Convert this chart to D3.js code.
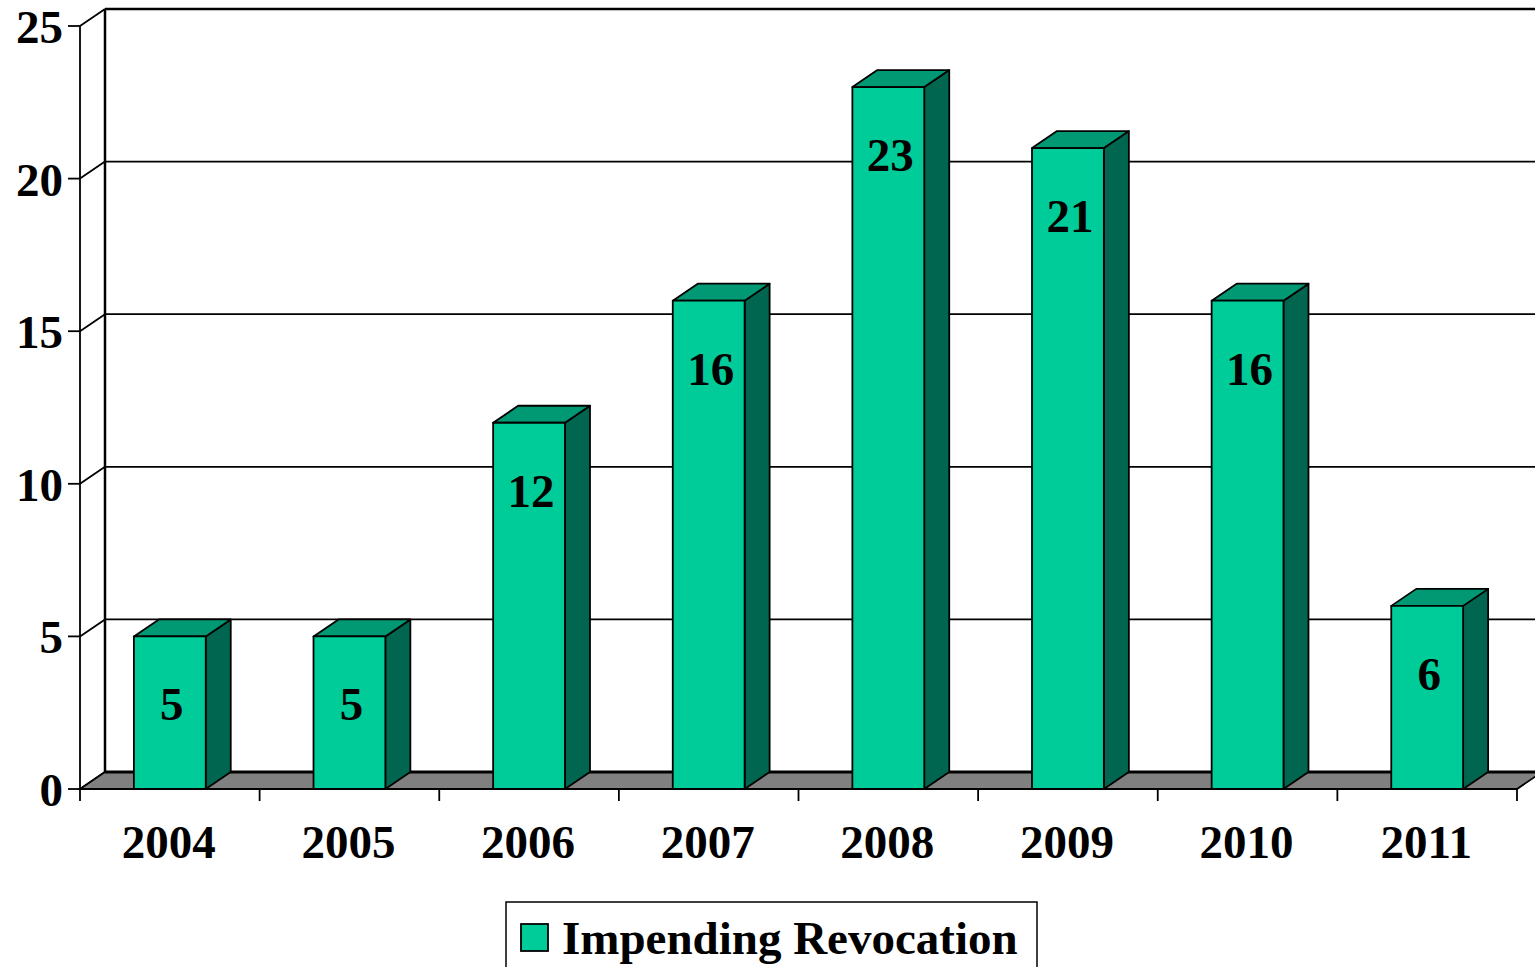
<!DOCTYPE html>
<html><head><meta charset="utf-8">
<script src="https://cdn.jsdelivr.net/npm/d3@7"></script>
<style>html,body{margin:0;padding:0;background:#fff;}svg{display:block;}</style>
</head><body>
<svg id="c" width="1535" height="967"></svg>
<script>
const categories = ["2004","2005","2006","2007","2008","2009","2010","2011"];
const values = [5,5,12,16,23,21,16,6];
const yTicks = [0,5,10,15,20,25];
const seriesName = "Impending Revocation";

(function(){
const svg = d3.select("#c");
const FONT = "'Liberation Serif','Times New Roman',serif";
const pL = 80, pR = 1517, pB = 789, pT = 26;
const dx = 25, dy = 17;
const front = "#00CC99", topC = "#009973", sideC = "#006650";

const x = d3.scaleBand().domain(categories).range([pL,pR]).paddingInner(0.6).paddingOuter(0.3);
const y = d3.scaleLinear().domain([0,25]).range([pB,pT]);
const step = x.step();

svg.append("rect").attr("x",pL+dx).attr("y",pT-dy).attr("width",1535).attr("height",pB-pT).attr("fill","#fff");
yTicks.forEach(t=>{
  if(t>0){
    svg.append("line").attr("x1",pL+dx).attr("x2",1540).attr("y1",y(t)-dy).attr("y2",y(t)-dy)
      .attr("stroke","#000").attr("stroke-width",t===25?2.5:1.8);
  }
  svg.append("line").attr("x1",pL).attr("y1",y(t)).attr("x2",pL+dx).attr("y2",y(t)-dy)
    .attr("stroke","#000").attr("stroke-width",1.8);
});
svg.append("line").attr("x1",pL+dx).attr("x2",pL+dx).attr("y1",y(25)-dy).attr("y2",y(0)-dy)
  .attr("stroke","#000").attr("stroke-width",2.5);
svg.append("polygon")
  .attr("points",[[pL,pB],[pR,pB],[pR+dx,pB-dy],[pL+dx,pB-dy]].map(p=>p.join(",")).join(" "))
  .attr("fill","#808080").attr("stroke","#000").attr("stroke-width",1.8);
svg.append("line").attr("x1",pL+dx).attr("x2",1540).attr("y1",pB-dy).attr("y2",pB-dy)
  .attr("stroke","#000").attr("stroke-width",3);

const bw = x.bandwidth();
const g = svg.append("g").attr("stroke","#000").attr("stroke-width",1.8).attr("stroke-linejoin","round");
categories.forEach((c,i)=>{
  const x0 = x(c), x1 = x0+bw, yt = y(values[i]);
  g.append("polygon").attr("fill",sideC)
    .attr("points",[[x1,yt],[x1+dx,yt-dy],[x1+dx,pB-dy],[x1,pB]].map(p=>p.join(",")).join(" "));
  g.append("polygon").attr("fill",topC)
    .attr("points",[[x0,yt],[x0+dx,yt-dy],[x1+dx,yt-dy],[x1,yt]].map(p=>p.join(",")).join(" "));
  g.append("rect").attr("fill",front).attr("x",x0).attr("y",yt).attr("width",bw).attr("height",pB-yt);
  svg.append("text").attr("x",x0+bw/2+2).attr("y",yt+84).attr("text-anchor","middle")
    .attr("font-family",FONT).attr("font-weight","bold").attr("font-size",47).attr("fill","#000")
    .text(values[i]);
});

svg.append("line").attr("x1",pL).attr("x2",pL).attr("y1",y(25)).attr("y2",y(0)).attr("stroke","#000").attr("stroke-width",1.8);
yTicks.forEach(t=>{
  svg.append("line").attr("x1",pL-12).attr("x2",pL).attr("y1",y(t)).attr("y2",y(t)).attr("stroke","#000").attr("stroke-width",1.8);
  svg.append("text").attr("x",pL-17).attr("y",y(t)+17).attr("text-anchor","end")
    .attr("font-family",FONT).attr("font-weight","bold").attr("font-size",47).text(t);
});
svg.append("line").attr("x1",pL).attr("x2",pR).attr("y1",pB).attr("y2",pB).attr("stroke","#000").attr("stroke-width",2);
categories.concat([null]).forEach((c,i)=>{
  const xt = pL + i*step;
  svg.append("line").attr("x1",xt).attr("x2",xt).attr("y1",pB).attr("y2",pB+12).attr("stroke","#000").attr("stroke-width",1.8);
});
categories.forEach(c=>{
  svg.append("text").attr("x",x(c)+bw/2-1).attr("y",858).attr("text-anchor","middle")
    .attr("font-family",FONT).attr("font-weight","bold").attr("font-size",47).text(c);
});

svg.append("rect").attr("x",506).attr("y",902).attr("width",531).attr("height",80).attr("fill","#fff").attr("stroke","#000").attr("stroke-width",1.5);
svg.append("rect").attr("x",521).attr("y",924).attr("width",27).attr("height",27).attr("fill",front).attr("stroke","#000").attr("stroke-width",1.8);
svg.append("text").attr("x",562).attr("y",954).attr("font-family",FONT).attr("font-weight","bold").attr("font-size",47).text(seriesName);
})();
</script>
</body></html>
